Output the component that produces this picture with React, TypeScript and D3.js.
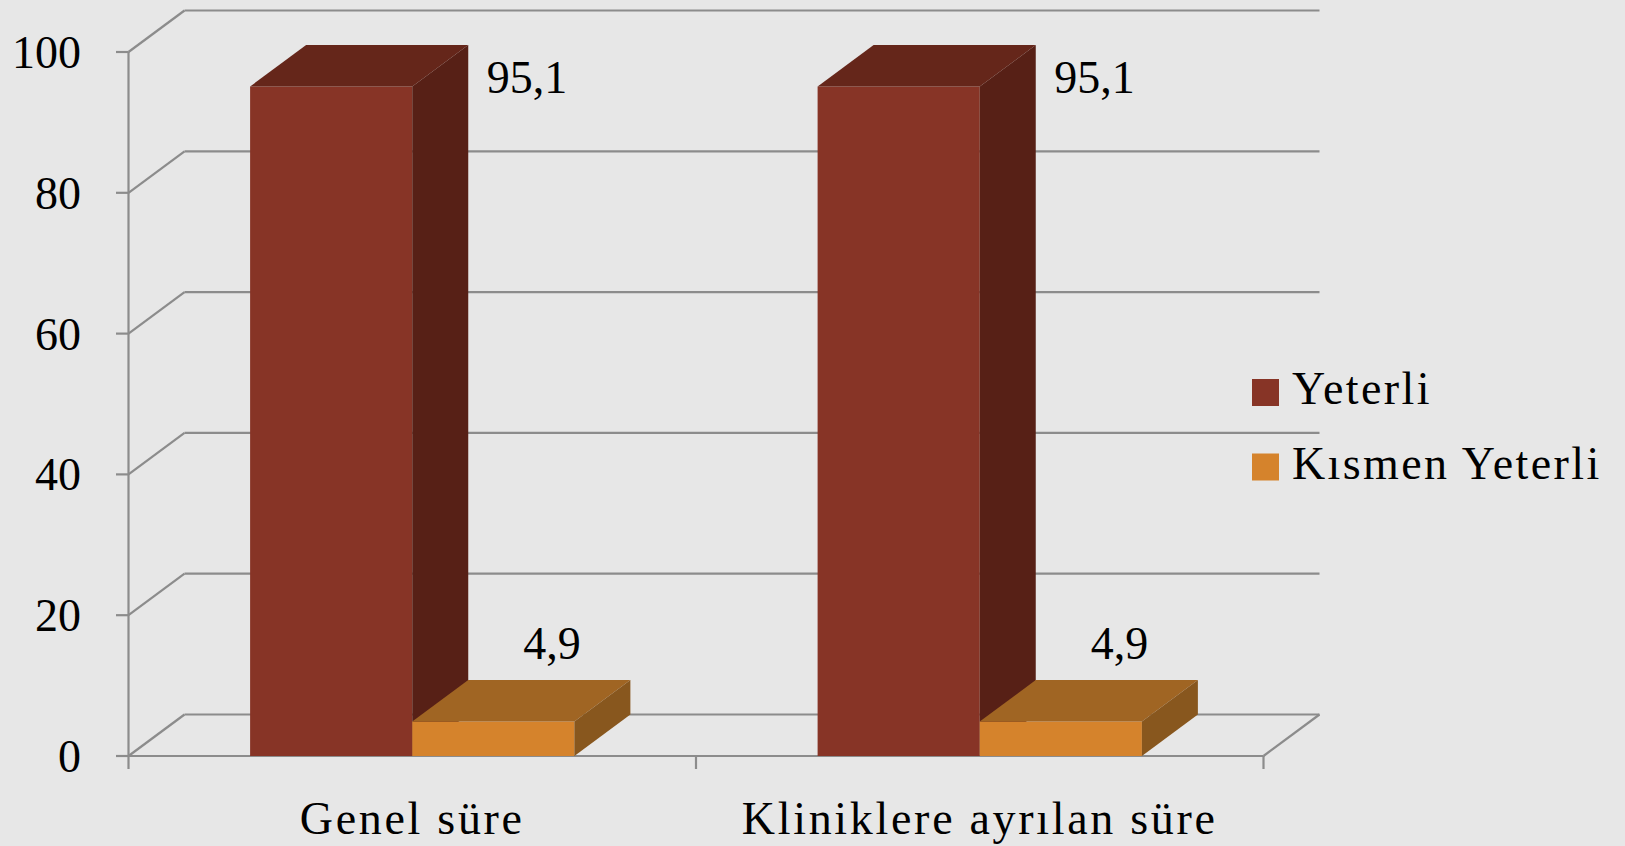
import React from "react";
import * as d3 from "d3";

const categories = ["Genel süre", "Kliniklere ayrılan süre"];
const seriesNames = ["Yeterli", "Kısmen Yeterli"];
const yeterliValues = [95.1, 95.1];
const kismenValues = [4.9, 4.9];
const yTicks = [0, 20, 40, 60, 80, 100];

const W = 1625;
const H = 846;
const DX = 56;
const DY = -41.5;
const FONT = "'Liberation Serif', 'DejaVu Serif', serif";
const GRID = "#8C8C8C";

const palette = [
  { front: "#873426", top: "#65261A", side: "#572016" },
  { front: "#D5832C", top: "#A06523", side: "#88571E" },
];

const locale = d3.formatLocale({ decimal: ",", thousands: ".", grouping: [3], currency: ["", ""] });
const fmt = locale.format(".1f");

export default function App() {
  const x = d3.scaleBand<string>().domain(categories).range([128.5, 1263.5]).padding(0);
  const y = d3.scaleLinear().domain([0, 100]).range([756, 52]);
  const bw = x.bandwidth() / 3.5;
  const series = [yeterliValues, kismenValues];
  const x0 = x.range()[0];
  const x1 = x.range()[1];
  const y0 = y(0);

  const bars: React.ReactNode[] = [];
  const labels: React.ReactNode[] = [];
  categories.forEach((c, ci) => {
    const start = (x(c) as number) + (x.bandwidth() - 2 * bw) / 2;
    series.forEach((vals, si) => {
      const v = vals[ci];
      const bx = start + si * bw;
      const yv = y(v);
      const col = palette[si];
      bars.push(
        <g key={`b-${ci}-${si}`}>
          <rect x={bx} y={yv} width={bw} height={y0 - yv} fill={col.front} />
          <polygon
            points={`${bx},${yv} ${bx + DX},${yv + DY} ${bx + bw + DX},${yv + DY} ${bx + bw},${yv}`}
            fill={col.top}
          />
          <polygon
            points={`${bx + bw},${yv} ${bx + bw + DX},${yv + DY} ${bx + bw + DX},${y0 + DY} ${bx + bw},${y0}`}
            fill={col.side}
          />
        </g>
      );
      if (si === 0) {
        labels.push(
          <text key={`l-${ci}-${si}`} x={bx + bw + DX + 18.5} y={yv + 6.5} fontSize={46} fontFamily={FONT} fill="#000">
            {fmt(v)}
          </text>
        );
      } else {
        labels.push(
          <text
            key={`l-${ci}-${si}`}
            x={bx + bw / 2 + 58.7}
            y={yv - 63}
            fontSize={46}
            fontFamily={FONT}
            textAnchor="middle"
            fill="#000"
          >
            {fmt(v)}
          </text>
        );
      }
    });
  });

  return (
    <svg width={W} height={H} style={{ position: "absolute", left: 0, top: 0 }}>
      <rect x={0} y={0} width={W} height={H} fill="#E7E7E7" />
      {yTicks.map((t) => (
        <g key={`g-${t}`}>
          <line x1={x0 + DX} x2={x1 + DX} y1={y(t) + DY} y2={y(t) + DY} stroke={GRID} strokeWidth={2.2} />
          <line x1={x0} x2={x0 + DX} y1={y(t)} y2={y(t) + DY} stroke={GRID} strokeWidth={2.2} />
          <line x1={x0 - 12.5} x2={x0} y1={y(t)} y2={y(t)} stroke={GRID} strokeWidth={2.2} />
          <text
            x={81}
            y={y(t) + 16}
            textAnchor="end"
            fontSize={46}
            fontFamily={FONT}
            fill="#000"
          >
            {t}
          </text>
        </g>
      ))}
      <line x1={x0} x2={x1} y1={y0} y2={y0} stroke={GRID} strokeWidth={2.2} />
      <line x1={x1} x2={x1 + DX} y1={y0} y2={y0 + DY} stroke={GRID} strokeWidth={2.2} />
      <line x1={x0} x2={x0} y1={y(100)} y2={y0} stroke={GRID} strokeWidth={2.2} />
      {[...categories.map((c) => x(c) as number), x1].map((t, i) => (
        <line key={`xt-${i}`} x1={t} x2={t} y1={y0} y2={y0 + 13} stroke={GRID} strokeWidth={2.2} />
      ))}
      {bars}
      {labels}
      {categories.map((c) => (
        <text
          key={`c-${c}`}
          x={(x(c) as number) + x.bandwidth() / 2}
          y={834}
          textAnchor="middle"
          fontSize={46}
          fontFamily={FONT}
          letterSpacing={2.7}
          fill="#000"
        >
          {c}
        </text>
      ))}
      {seriesNames.map((s, i) => (
        <g key={`lg-${s}`}>
          <rect x={1252} y={379 + i * 74.5} width={27} height={27} fill={palette[i].front} />
          <text x={1292} y={404 + i * 74.5} fontSize={46} fontFamily={FONT} letterSpacing={2.4} fill="#000">
            {s}
          </text>
        </g>
      ))}
    </svg>
  );
}
